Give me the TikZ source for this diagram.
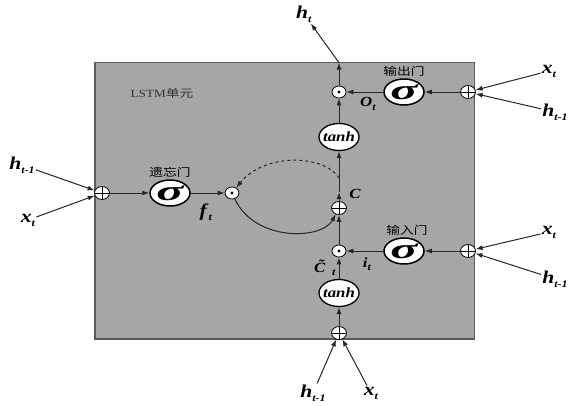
\documentclass[tikz,border=0pt]{standalone}
\usepackage{fontspec}
\setmainfont{Liberation Serif}[FakeStretch=1.2]
\newfontfamily\cjk{Noto Sans CJK SC}[FakeStretch=1.25]
\usetikzlibrary{arrows.meta, positioning, shapes.geometric, calc}
\definecolor{cellgray}{RGB}{166,166,166}
\definecolor{edgegray}{RGB}{90,90,90}
\newcommand{\vlab}[2]{\textbf{\textit{#1}}\raisebox{-0.5ex}{\fontsize{10}{10}\selectfont\textbf{\textit{#2}}}}
\newcommand{\sigmark}{\makebox[0pt]{\scalebox{1.5}[1]{σ}}}
\newcommand{\tanhmark}{\makebox[0pt]{tanh}}

\begin{document}
\begin{tikzpicture}[
    x=1pt, y=-1pt,
    >={Latex[length=7pt,width=5pt]},
    flow/.style={->, line width=1pt, black!85},
    sigbox/.style={ellipse, draw, line width=1.5pt, fill=white, minimum width=40pt, minimum height=26pt, inner sep=0pt, font=\fontsize{28}{28}\selectfont\bfseries\itshape},
    tanhbox/.style={ellipse, draw, line width=1.3pt, fill=white, minimum width=40pt, minimum height=27pt, inner sep=0pt, font=\fontsize{14}{14}\selectfont\bfseries\itshape},
    addnode/.style={ellipse, draw, line width=0.8pt, fill=white, minimum width=15pt, minimum height=13pt, inner sep=0pt,
        path picture={\draw[line width=0.8pt] (path picture bounding box.north) -- (path picture bounding box.south)
                      (path picture bounding box.west) -- (path picture bounding box.east);}},
    mulnode/.style={ellipse, draw, line width=0.8pt, fill=white, minimum width=14pt, minimum height=12pt, inner sep=0pt,
        path picture={\fill[black] (path picture bounding box.center) circle[radius=1.6pt];}},
    varlab/.style={font=\fontsize{18}{18}\selectfont, inner sep=1pt},
    smalllab/.style={font=\fontsize{14}{14}\selectfont, inner sep=1pt},
    cjklab/.style={font=\cjk\fontsize{11}{11}\selectfont},
]
\useasboundingbox (0,0) rectangle (570,405);
\fill[white] (0,0) rectangle (570,405);

% Cell
\draw[edgegray, line width=1.2pt, fill=cellgray] (95,62.7) rectangle (474.5,339);
\node[font=\fontsize{11}{11}\selectfont, black!80] (title) at (162,93) {LSTM{\cjk 单元}};

% Output gate
\node[addnode] (addO) at (468,92) {};
\node[sigbox]  (sigO) at (404,92) {\sigmark};
\node[mulnode] (mulO) at (339,92) {};
\node[cjklab]  (nameO) at (404,71) {输出门};
\node[smalllab] (oO) at (368,104) {\vlab{O}{t}};
\node[varlab]  (xO) at (549,71) {\vlab{x}{t}};
\node[varlab]  (hO) at (555,112) {\vlab{h}{t-1}};
\coordinate (outT) at (339,62.7);
\node[varlab]  (ht) at (304,14) {\vlab{h}{t}};

% Forget gate
\node[addnode] (addF) at (102,193) {};
\node[sigbox]  (sigF) at (170,193) {\sigmark};
\node[mulnode] (mulF) at (232,193) {};
\node[cjklab]  (nameF) at (170,172) {遗忘门};
\node[varlab]  (fF) at (206,212) {\vlab{f}{t}};
\node[varlab]  (hF) at (22,165) {\vlab{h}{t-1}};
\node[varlab]  (xF) at (28,220) {\vlab{x}{t}};

% Cell state
\node[tanhbox] (tanhU) at (339,137) {\tanhmark};
\node[addnode] (addC) at (339,208) {};
\coordinate (cTap) at (339,178);
\coordinate (cMid) at (339,192);
\node[smalllab] (cC) at (355,194) {\textbf{\textit{C}}};

% Input gate
\node[addnode] (addI) at (468,251) {};
\node[sigbox]  (sigI) at (404,251) {\sigmark};
\node[mulnode] (mulI) at (339,251) {};
\node[cjklab]  (nameI) at (407,230) {输入门};
\node[smalllab] (iI) at (367,264) {\vlab{i}{t}};
\node[varlab]  (xI) at (549,232) {\vlab{x}{t}};
\node[varlab]  (hI) at (555,279) {\vlab{h}{t-1}};
\node[tanhbox] (tanhL) at (339,293) {\tanhmark};
\node[smalllab] (cT) at (325,268) {\vlab{\~C}{t}};
\node[addnode] (addB) at (339,333) {};
\node[varlab]  (hB) at (313,393) {\vlab{h}{t-1}};
\node[varlab]  (xB) at (371,393) {\vlab{x}{t}};

% Connections, output gate
\draw[flow] (xO) -- (addO);
\draw[flow] (hO) -- (addO);
\draw[flow] (addO) -- (sigO);
\draw[flow] (sigO) -- (mulO);
\draw[flow] (tanhU) -- (mulO);
\draw[flow] (mulO) -- (outT);
\draw[flow] (outT) -- (ht);

% Connections, forget gate
\draw[flow] (hF) -- (addF);
\draw[flow] (xF) -- (addF);
\draw[flow] (addF) -- (sigF);
\draw[flow] (sigF) -- (mulF);
\draw[flow, dashed] (cTap) .. controls (325,155) and (265,152) .. (mulF);
\draw[flow] (mulF) .. controls (255,242) and (322,240) .. (addC);

% Connections, cell state
\draw[flow] (addC) -- (cMid);
\draw[flow] (cMid) -- (tanhU);

% Connections, input gate
\draw[flow] (xI) -- (addI);
\draw[flow] (hI) -- (addI);
\draw[flow] (addI) -- (sigI);
\draw[flow] (sigI) -- (mulI);
\draw[flow] (mulI) -- (addC);
\draw[flow] (tanhL) -- (mulI);
\draw[flow] (addB) -- (tanhL);
\draw[flow] (hB) -- (addB);
\draw[flow] (xB) -- (addB);

\end{tikzpicture}
\end{document}
